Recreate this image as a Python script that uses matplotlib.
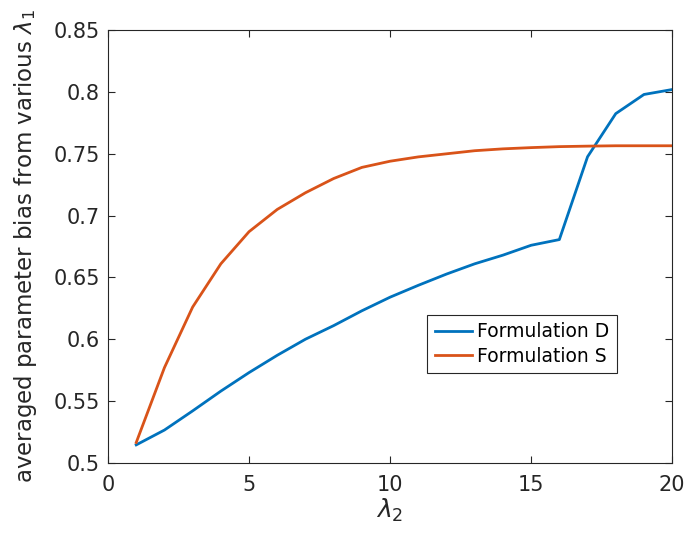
import numpy as np
import matplotlib.pyplot as plt

plt.rcParams['font.family'] = ['DejaVu Sans']
plt.rcParams['mathtext.fontset'] = 'dejavusans'

# 데이터
lam2 = list(range(1, 21))
form_d = [0.5145, 0.5265, 0.542, 0.558, 0.573, 0.587, 0.600, 0.611, 0.623, 0.634,
          0.6436, 0.6527, 0.661, 0.668, 0.676, 0.6806, 0.7476, 0.7825, 0.798, 0.802]
form_s = [0.5164, 0.577, 0.626, 0.661, 0.687, 0.705, 0.7185, 0.730, 0.739, 0.744,
          0.7475, 0.750, 0.7525, 0.754, 0.755, 0.7558, 0.7562, 0.7565, 0.7565, 0.7565]
labels = ['Formulation D', 'Formulation S']
colors = ['#0072BD', '#D95319']

fig = plt.figure(figsize=(6.88, 5.49), dpi=100)
ax = fig.add_axes([0.157, 0.157, 0.820, 0.788])

ax.plot(lam2, form_d, color=colors[0], lw=2, label=labels[0])
ax.plot(lam2, form_s, color=colors[1], lw=2, label=labels[1])

ax.set_xlim(0, 20)
ax.set_ylim(0.5, 0.85)
ax.set_xticks([0, 5, 10, 15, 20])
ax.set_yticks([0.5, 0.55, 0.6, 0.65, 0.7, 0.75, 0.8, 0.85])
ax.set_yticklabels(['0.5', '0.55', '0.6', '0.65', '0.7', '0.75', '0.8', '0.85'])

# MATLAB 스타일 축
axc = '#262626'
for s in ax.spines.values():
    s.set_color(axc)
    s.set_linewidth(0.8)
ax.tick_params(direction='in', length=5, width=0.8, top=True, right=True,
               colors=axc, labelsize=15)
ax.tick_params(axis='x', pad=9)
ax.tick_params(axis='y', pad=6)

ax.set_xlabel('$\\lambda_2$', fontsize=18, color=axc, labelpad=1)
ax.set_ylabel('averaged parameter bias from various $\\lambda_1$', fontsize=16.5,
              color=axc, labelpad=10)

leg = ax.legend(loc='upper left', bbox_to_anchor=(0.566, 0.342), borderaxespad=0,
                fontsize=13.5, fancybox=False, framealpha=1, handlelength=2.0,
                handletextpad=0.25, borderpad=0.4, labelspacing=0.3)
leg.get_frame().set_edgecolor(axc)
leg.get_frame().set_linewidth(0.8)

plt.savefig('out.png', dpi=100)
